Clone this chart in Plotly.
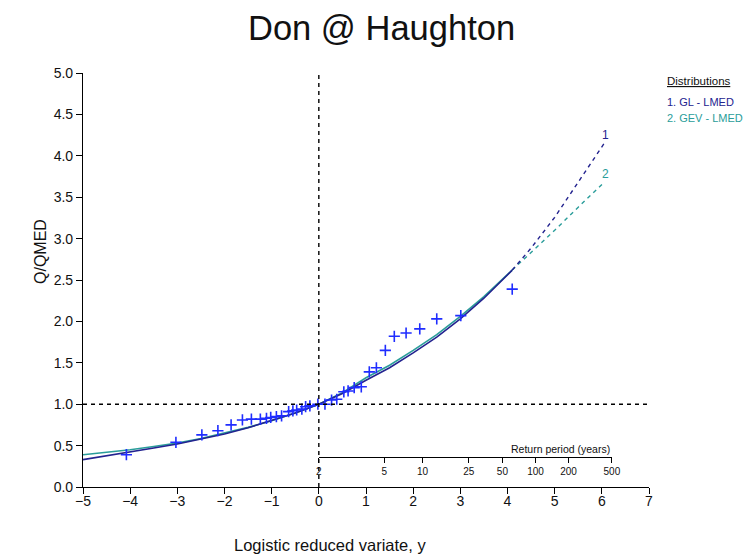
import math
import plotly.graph_objects as go

# Annual maxima, plotted against logistic reduced variate
obs_y = [-4.08, -3.03, -2.48, -2.14, -1.86, -1.62, -1.43, -1.24, -1.11, -1.02,
         -0.90, -0.79, -0.64, -0.55, -0.47, -0.36, -0.28, -0.19,
         -0.02, 0.13, 0.27, 0.38, 0.53, 0.62, 0.75, 0.90, 1.07, 1.22,
         1.41, 1.60, 1.85, 2.14, 2.50, 3.01, 4.10]
obs_q = [0.39, 0.54, 0.63, 0.68, 0.75, 0.81, 0.82, 0.82, 0.83, 0.84,
         0.85, 0.86, 0.91, 0.92, 0.93, 0.94, 0.97, 0.98,
         1.00, 1.00, 1.05, 1.06, 1.15, 1.16, 1.20, 1.21, 1.39, 1.44,
         1.65, 1.82, 1.86, 1.91, 2.03, 2.07, 2.39]

# Fitted growth curves (solid within the data range, dashed beyond)
fit_y = [-5.0, -4.5, -4.0, -3.5, -3.0, -2.5, -2.0, -1.5, -1.0, -0.5,
         0.0, 0.5, 1.0, 1.5, 2.0, 2.5, 3.0, 3.5, 4.1]
gl_q = [0.33, 0.375, 0.42, 0.47, 0.52, 0.58, 0.64, 0.715, 0.80, 0.893,
        1.00, 1.13, 1.29, 1.44, 1.62, 1.81, 2.03, 2.28, 2.62]
gev_q = [0.39, 0.42, 0.45, 0.49, 0.53, 0.585, 0.65, 0.72, 0.80, 0.895,
         1.00, 1.14, 1.32, 1.47, 1.65, 1.84, 2.06, 2.30, 2.62]

ext_y = [4.1, 4.5, 5.0, 5.5, 6.05]
gl_ext = [2.62, 2.885, 3.257, 3.678, 4.15]
gev_ext = [2.62, 2.83, 3.10, 3.38, 3.68]

return_periods = [2, 5, 10, 25, 50, 100, 200, 500]
x_ticks = [-5, -4, -3, -2, -1, 0, 1, 2, 3, 4, 5, 6, 7]
y_ticks = [0.0, 0.5, 1.0, 1.5, 2.0, 2.5, 3.0, 3.5, 4.0, 4.5, 5.0]

GL_COL = "#23238f"
GEV_COL = "#2a9d9a"
PT_COL = "#1f2dff"
FONT = "Liberation Sans, Arial, sans-serif"

X_MIN, X_MAX = -5, 7
Y_MIN, Y_MAX = 0, 5

fig = go.Figure()

fig.add_trace(go.Scatter(x=fit_y, y=gev_q, mode="lines",
                         line=dict(color=GEV_COL, width=1.6), hoverinfo="skip"))
fig.add_trace(go.Scatter(x=fit_y, y=gl_q, mode="lines",
                         line=dict(color=GL_COL, width=1.6), hoverinfo="skip"))
fig.add_trace(go.Scatter(x=ext_y, y=gev_ext, mode="lines",
                         line=dict(color=GEV_COL, width=1.4, dash="4px,4px"), hoverinfo="skip"))
fig.add_trace(go.Scatter(x=ext_y, y=gl_ext, mode="lines",
                         line=dict(color=GL_COL, width=1.4, dash="4px,4px"), hoverinfo="skip"))
fig.add_trace(go.Scatter(x=obs_y, y=obs_q, mode="markers",
                         marker=dict(symbol="cross-thin", size=8,
                                     line=dict(color=PT_COL, width=1.6))))

# Return-period scale: position of each T on the logistic variate axis
rp_pos = [math.log(t - 1) for t in return_periods]
fig.add_trace(go.Scatter(x=[rp_pos[0], rp_pos[-1]], y=[None, None], xaxis="x2",
                         yaxis="y", mode="lines", hoverinfo="skip"))

# Median reference lines
fig.add_shape(type="line", x0=0, x1=0, y0=Y_MIN, y1=Y_MAX, xref="x", yref="y",
              line=dict(color="black", width=1.4, dash="4px,4px"))
fig.add_shape(type="line", x0=X_MIN, x1=X_MAX, y0=1, y1=1, xref="x", yref="y",
              line=dict(color="black", width=1.4, dash="4px,4px"))

L, R, T, B = 83, 104, 73, 67
W, H = 753, 554
plot_w = W - L - R
plot_h = H - T - B
dom0 = (0 - X_MIN) / (X_MAX - X_MIN)
dom1 = (rp_pos[-1] - X_MIN) / (X_MAX - X_MIN)
rp_line_q = 0.362

fig.update_layout(
    width=W, height=H,
    margin=dict(l=L, r=R, t=T, b=B),
    paper_bgcolor="white", plot_bgcolor="rgba(0,0,0,0)",
    showlegend=False,
    font=dict(family=FONT, color="#111111", size=14),
    xaxis=dict(range=[X_MIN, X_MAX], tickvals=x_ticks, showgrid=False, zeroline=False,
               showline=True, linecolor="black", linewidth=1.2,
               ticks="outside", ticklen=6, tickcolor="black",
               tickfont=dict(size=14), ticklabelstandoff=-5),
    yaxis=dict(range=[Y_MIN, Y_MAX], tickvals=y_ticks, tickformat=".1f",
               showgrid=False, zeroline=False,
               showline=True, linecolor="black", linewidth=1.2,
               ticks="outside", ticklen=6, tickcolor="black",
               tickfont=dict(size=14), ticklabelstandoff=0),
    xaxis2=dict(domain=[dom0, dom1], range=[0, rp_pos[-1]], anchor="free",
                position=rp_line_q / (Y_MAX - Y_MIN), side="bottom",
                tickvals=rp_pos, ticktext=[str(t) for t in return_periods],
                showgrid=False, zeroline=False, showline=True,
                linecolor="black", linewidth=1, ticks="outside", ticklen=5,
                tickcolor="black", tickfont=dict(size=10), ticklabelstandoff=0),
)

annotations = [
    dict(text="Don @ Haughton", x=(381 - L) / plot_w, y=1 + (T - 28) / plot_h, xref="paper", yref="paper",
         showarrow=False, font=dict(size=34.5, color="#111111"), xanchor="center", yanchor="middle"),
    dict(text="Logistic reduced variate, y", x=(330 - L) / plot_w, y=-(545 - (H - B)) / plot_h,
         xref="paper", yref="paper", showarrow=False, font=dict(size=16.5),
         xanchor="center", yanchor="middle"),
    dict(text="Q/QMED", x=(40 - L) / plot_w, y=(H - B - 252) / plot_h, xref="paper", yref="paper",
         showarrow=False, textangle=-90, font=dict(size=16), xanchor="center", yanchor="middle"),
    dict(text="Return period (years)", x=rp_pos[-1], y=rp_line_q, xref="x2", yref="y",
         showarrow=False, font=dict(size=10.5), xanchor="right", yanchor="bottom", yshift=0),
    dict(text="<u>Distributions</u>", x=(665 - L) / plot_w, y=(H - B - 81) / plot_h,
         xref="paper", yref="paper", showarrow=False, font=dict(size=11.5),
         xanchor="left", yanchor="middle"),
    dict(text="1. GL - LMED", x=(665 - L) / plot_w, y=(H - B - 102) / plot_h,
         xref="paper", yref="paper", showarrow=False, font=dict(size=11, color=GL_COL),
         xanchor="left", yanchor="middle"),
    dict(text="2. GEV - LMED", x=(665 - L) / plot_w, y=(H - B - 118) / plot_h,
         xref="paper", yref="paper", showarrow=False, font=dict(size=11, color=GEV_COL),
         xanchor="left", yanchor="middle"),
    dict(text="1", x=ext_y[-1], y=gl_ext[-1], xref="x", yref="y", showarrow=False,
         font=dict(size=12, color=GL_COL), xanchor="center", yanchor="bottom", xshift=1, yshift=-1),
    dict(text="2", x=ext_y[-1], y=gev_ext[-1], xref="x", yref="y", showarrow=False,
         font=dict(size=12, color=GEV_COL), xanchor="center", yanchor="bottom", xshift=1, yshift=-1),
]
fig.update_layout(annotations=annotations)

fig.write_html("out.html")
